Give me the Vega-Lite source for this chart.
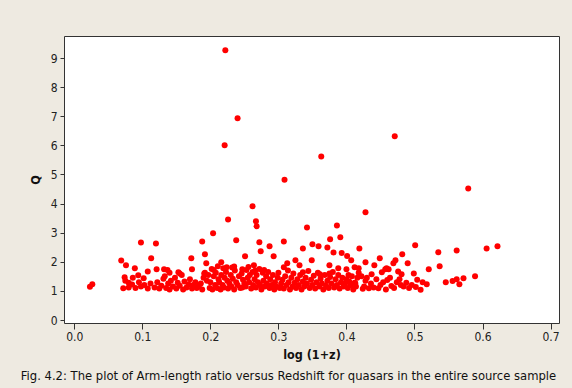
{
  "$schema": "https://vega.github.io/schema/vega-lite/v6.json",
  "autosize": "none",
  "width": 495,
  "height": 287,
  "padding": {"left": 64, "top": 36, "right": 13, "bottom": 65},
  "background": "#EEEAE1",
  "title": {
    "text": "Fig. 4.2: The plot of Arm-length ratio versus Redshift for quasars in the entire source sample",
    "orient": "bottom",
    "anchor": "middle",
    "font": "DejaVu Sans",
    "fontSize": 11.6,
    "fontWeight": "normal",
    "color": "#111",
    "offset": 10,
    "dx": -23
  },
  "config": {
    "view": {"fill": "white", "stroke": "#333", "strokeWidth": 1},
    "axis": {
      "grid": false,
      "domain": false,
      "tickColor": "#333",
      "labelFont": "DejaVu Sans Condensed",
      "labelFontSize": 12,
      "labelColor": "#222",
      "titleFont": "DejaVu Sans Condensed",
      "titleFontSize": 12.5,
      "titleFontWeight": "bold",
      "titleColor": "#111"
    }
  },
  "data": {
    "values": [
      {"x": 0.222, "q": 9.27}, {"x": 0.240, "q": 6.93}, {"x": 0.221, "q": 6.00}, {"x": 0.309, "q": 4.82},
      {"x": 0.471, "q": 6.31}, {"x": 0.363, "q": 5.62}, {"x": 0.579, "q": 4.52}, {"x": 0.428, "q": 3.70},
      {"x": 0.262, "q": 3.91}, {"x": 0.226, "q": 3.45}, {"x": 0.267, "q": 3.39}, {"x": 0.268, "q": 3.22},
      {"x": 0.342, "q": 3.18}, {"x": 0.386, "q": 3.25}, {"x": 0.204, "q": 2.98},
      {"x": 0.098, "q": 2.66}, {"x": 0.120, "q": 2.63}, {"x": 0.069, "q": 2.04}, {"x": 0.113, "q": 2.12},
      {"x": 0.188, "q": 2.70}, {"x": 0.238, "q": 2.74}, {"x": 0.272, "q": 2.67}, {"x": 0.308, "q": 2.70},
      {"x": 0.376, "q": 2.77}, {"x": 0.391, "q": 2.84}, {"x": 0.192, "q": 2.26}, {"x": 0.172, "q": 2.12},
      {"x": 0.251, "q": 2.19}, {"x": 0.274, "q": 2.36}, {"x": 0.287, "q": 2.53}, {"x": 0.293, "q": 2.19},
      {"x": 0.336, "q": 2.46}, {"x": 0.350, "q": 2.60}, {"x": 0.359, "q": 2.53}, {"x": 0.372, "q": 2.49},
      {"x": 0.381, "q": 2.32}, {"x": 0.393, "q": 2.30}, {"x": 0.401, "q": 2.20}, {"x": 0.407, "q": 2.05},
      {"x": 0.419, "q": 2.46}, {"x": 0.501, "q": 2.57}, {"x": 0.535, "q": 2.33}, {"x": 0.562, "q": 2.39},
      {"x": 0.606, "q": 2.46}, {"x": 0.622, "q": 2.53}, {"x": 0.482, "q": 2.26}, {"x": 0.472, "q": 2.05},
      {"x": 0.449, "q": 2.12}, {"x": 0.325, "q": 2.05}, {"x": 0.349, "q": 2.05},
      {"x": 0.076, "q": 1.88}, {"x": 0.089, "q": 1.78}, {"x": 0.108, "q": 1.67}, {"x": 0.121, "q": 1.74},
      {"x": 0.132, "q": 1.74}, {"x": 0.074, "q": 1.47}, {"x": 0.094, "q": 1.54}, {"x": 0.102, "q": 1.43},
      {"x": 0.153, "q": 1.64}, {"x": 0.173, "q": 1.74}, {"x": 0.194, "q": 1.95}, {"x": 0.216, "q": 1.98},
      {"x": 0.224, "q": 1.81}, {"x": 0.235, "q": 1.84}, {"x": 0.247, "q": 1.74}, {"x": 0.264, "q": 1.88},
      {"x": 0.191, "q": 1.60}, {"x": 0.205, "q": 1.72}, {"x": 0.313, "q": 1.95}, {"x": 0.331, "q": 1.88},
      {"x": 0.375, "q": 1.88}, {"x": 0.308, "q": 1.81}, {"x": 0.388, "q": 1.78}, {"x": 0.400, "q": 1.74},
      {"x": 0.412, "q": 1.81}, {"x": 0.336, "q": 1.64}, {"x": 0.361, "q": 1.57}, {"x": 0.375, "q": 1.60},
      {"x": 0.403, "q": 1.55}, {"x": 0.428, "q": 1.98}, {"x": 0.490, "q": 1.95}, {"x": 0.537, "q": 1.85},
      {"x": 0.441, "q": 1.88}, {"x": 0.521, "q": 1.74}, {"x": 0.462, "q": 1.74}, {"x": 0.476, "q": 1.67},
      {"x": 0.499, "q": 1.60}, {"x": 0.418, "q": 1.78}, {"x": 0.437, "q": 1.57}, {"x": 0.452, "q": 1.64},
      {"x": 0.481, "q": 1.57}, {"x": 0.457, "q": 1.74}, {"x": 0.469, "q": 1.95}, {"x": 0.459, "q": 1.78},
      {"x": 0.589, "q": 1.50}, {"x": 0.572, "q": 1.43}, {"x": 0.562, "q": 1.40}, {"x": 0.556, "q": 1.34},
      {"x": 0.546, "q": 1.30}, {"x": 0.566, "q": 1.23}, {"x": 0.518, "q": 1.23}, {"x": 0.504, "q": 1.38},
      {"x": 0.502, "q": 1.13}, {"x": 0.509, "q": 1.04}, {"x": 0.413, "q": 1.26}, {"x": 0.428, "q": 1.35},
      {"x": 0.433, "q": 1.09}, {"x": 0.447, "q": 1.09}, {"x": 0.460, "q": 1.37}, {"x": 0.466, "q": 1.17},
      {"x": 0.480, "q": 1.20}, {"x": 0.424, "q": 1.07}, {"x": 0.023, "q": 1.14}, {"x": 0.0265, "q": 1.23},
      {"x": 0.072, "q": 1.09}, {"x": 0.080, "q": 1.12}, {"x": 0.075, "q": 1.35}, {"x": 0.085, "q": 1.22},
      {"x": 0.090, "q": 1.10}, {"x": 0.095, "q": 1.30}, {"x": 0.098, "q": 1.15}, {"x": 0.103, "q": 1.20},
      {"x": 0.108, "q": 1.08}, {"x": 0.112, "q": 1.25}, {"x": 0.118, "q": 1.12}, {"x": 0.122, "q": 1.30},
      {"x": 0.125, "q": 1.08}, {"x": 0.128, "q": 1.18}, {"x": 0.131, "q": 1.42}, {"x": 0.080, "q": 1.28},
      {"x": 0.086, "q": 1.45},
      {"x": 0.133, "q": 1.50}, {"x": 0.135, "q": 1.10}, {"x": 0.138, "q": 1.25}, {"x": 0.140, "q": 1.05},
      {"x": 0.142, "q": 1.35}, {"x": 0.145, "q": 1.15}, {"x": 0.148, "q": 1.45}, {"x": 0.150, "q": 1.08},
      {"x": 0.152, "q": 1.28}, {"x": 0.155, "q": 1.18}, {"x": 0.158, "q": 1.55}, {"x": 0.160, "q": 1.05},
      {"x": 0.162, "q": 1.32}, {"x": 0.165, "q": 1.12}, {"x": 0.168, "q": 1.22}, {"x": 0.170, "q": 1.40},
      {"x": 0.173, "q": 1.08}, {"x": 0.175, "q": 1.20}, {"x": 0.178, "q": 1.30}, {"x": 0.180, "q": 1.10},
      {"x": 0.183, "q": 1.15}, {"x": 0.186, "q": 1.25}, {"x": 0.188, "q": 1.05}, {"x": 0.190, "q": 1.45},
      {"x": 0.192, "q": 1.62}, {"x": 0.195, "q": 1.35}, {"x": 0.197, "q": 1.55}, {"x": 0.199, "q": 1.10},
      {"x": 0.140, "q": 1.62}, {"x": 0.137, "q": 1.72}, {"x": 0.155, "q": 1.60},
      {"x": 0.200, "q": 1.30}, {"x": 0.202, "q": 1.75}, {"x": 0.203, "q": 1.05}, {"x": 0.205, "q": 1.50},
      {"x": 0.207, "q": 1.20}, {"x": 0.208, "q": 1.62}, {"x": 0.210, "q": 1.10}, {"x": 0.212, "q": 1.40},
      {"x": 0.213, "q": 1.30}, {"x": 0.215, "q": 1.05}, {"x": 0.216, "q": 1.55}, {"x": 0.218, "q": 1.20},
      {"x": 0.220, "q": 1.12}, {"x": 0.221, "q": 1.45}, {"x": 0.223, "q": 1.65}, {"x": 0.225, "q": 1.35},
      {"x": 0.226, "q": 1.08}, {"x": 0.228, "q": 1.25}, {"x": 0.230, "q": 1.55}, {"x": 0.231, "q": 1.15},
      {"x": 0.233, "q": 1.42}, {"x": 0.235, "q": 1.05}, {"x": 0.236, "q": 1.70}, {"x": 0.238, "q": 1.30},
      {"x": 0.240, "q": 1.20}, {"x": 0.242, "q": 1.50}, {"x": 0.244, "q": 1.10}, {"x": 0.246, "q": 1.60},
      {"x": 0.248, "q": 1.38}, {"x": 0.250, "q": 1.25}, {"x": 0.252, "q": 1.15}, {"x": 0.253, "q": 1.72},
      {"x": 0.255, "q": 1.45}, {"x": 0.257, "q": 1.30}, {"x": 0.258, "q": 1.55}, {"x": 0.260, "q": 1.08},
      {"x": 0.262, "q": 1.65}, {"x": 0.263, "q": 1.20}, {"x": 0.265, "q": 1.40}, {"x": 0.267, "q": 1.12},
      {"x": 0.268, "q": 1.55}, {"x": 0.270, "q": 1.30}, {"x": 0.272, "q": 1.75}, {"x": 0.273, "q": 1.20},
      {"x": 0.275, "q": 1.05}, {"x": 0.277, "q": 1.62}, {"x": 0.278, "q": 1.35}, {"x": 0.280, "q": 1.15},
      {"x": 0.282, "q": 1.50}, {"x": 0.283, "q": 1.25}, {"x": 0.285, "q": 1.65}, {"x": 0.287, "q": 1.10},
      {"x": 0.288, "q": 1.40}, {"x": 0.290, "q": 1.20}, {"x": 0.292, "q": 1.55}, {"x": 0.294, "q": 1.05},
      {"x": 0.295, "q": 1.30}, {"x": 0.297, "q": 1.15}, {"x": 0.299, "q": 1.45}, {"x": 0.211, "q": 1.85},
      {"x": 0.219, "q": 1.78}, {"x": 0.232, "q": 1.80}, {"x": 0.256, "q": 1.82}, {"x": 0.266, "q": 1.70},
      {"x": 0.279, "q": 1.72}, {"x": 0.247, "q": 1.12},
      {"x": 0.300, "q": 1.62}, {"x": 0.302, "q": 1.10}, {"x": 0.304, "q": 1.25}, {"x": 0.306, "q": 1.38},
      {"x": 0.308, "q": 1.08}, {"x": 0.310, "q": 1.50}, {"x": 0.312, "q": 1.20}, {"x": 0.314, "q": 1.70},
      {"x": 0.315, "q": 1.30}, {"x": 0.317, "q": 1.05}, {"x": 0.319, "q": 1.45}, {"x": 0.321, "q": 1.15},
      {"x": 0.322, "q": 1.60}, {"x": 0.324, "q": 1.28}, {"x": 0.326, "q": 1.10}, {"x": 0.328, "q": 1.40},
      {"x": 0.330, "q": 1.20}, {"x": 0.332, "q": 1.55}, {"x": 0.334, "q": 1.05}, {"x": 0.336, "q": 1.32},
      {"x": 0.338, "q": 1.15}, {"x": 0.340, "q": 1.45}, {"x": 0.342, "q": 1.25}, {"x": 0.344, "q": 1.68},
      {"x": 0.346, "q": 1.10}, {"x": 0.348, "q": 1.38}, {"x": 0.350, "q": 1.20}, {"x": 0.352, "q": 1.52},
      {"x": 0.354, "q": 1.08}, {"x": 0.356, "q": 1.30}, {"x": 0.358, "q": 1.62}, {"x": 0.360, "q": 1.15},
      {"x": 0.362, "q": 1.42}, {"x": 0.364, "q": 1.25}, {"x": 0.366, "q": 1.05}, {"x": 0.368, "q": 1.55},
      {"x": 0.370, "q": 1.18}, {"x": 0.372, "q": 1.35}, {"x": 0.374, "q": 1.10}, {"x": 0.376, "q": 1.48},
      {"x": 0.378, "q": 1.25}, {"x": 0.380, "q": 1.65}, {"x": 0.382, "q": 1.12}, {"x": 0.384, "q": 1.40},
      {"x": 0.386, "q": 1.20}, {"x": 0.388, "q": 1.55}, {"x": 0.390, "q": 1.08}, {"x": 0.392, "q": 1.30},
      {"x": 0.394, "q": 1.45}, {"x": 0.396, "q": 1.15}, {"x": 0.398, "q": 1.25}, {"x": 0.400, "q": 1.40},
      {"x": 0.402, "q": 1.10}, {"x": 0.404, "q": 1.32}, {"x": 0.406, "q": 1.20}, {"x": 0.408, "q": 1.50},
      {"x": 0.410, "q": 1.05}, {"x": 0.412, "q": 1.28}, {"x": 0.414, "q": 1.15}, {"x": 0.416, "q": 1.45},
      {"x": 0.418, "q": 1.62},
      {"x": 0.422, "q": 1.50}, {"x": 0.426, "q": 1.15}, {"x": 0.430, "q": 1.45}, {"x": 0.436, "q": 1.25},
      {"x": 0.440, "q": 1.12}, {"x": 0.444, "q": 1.40}, {"x": 0.450, "q": 1.20}, {"x": 0.454, "q": 1.30},
      {"x": 0.458, "q": 1.05}, {"x": 0.464, "q": 1.45}, {"x": 0.470, "q": 1.10}, {"x": 0.474, "q": 1.30},
      {"x": 0.478, "q": 1.40}, {"x": 0.484, "q": 1.15}, {"x": 0.488, "q": 1.28}, {"x": 0.492, "q": 1.10},
      {"x": 0.496, "q": 1.20}, {"x": 0.512, "q": 1.30}
    ]
  },
  "mark": {"type": "circle", "color": "#FF0000", "size": 36, "opacity": 1},
  "encoding": {
    "x": {
      "field": "x",
      "type": "quantitative",
      "title": "log (1+z)",
      "scale": {"domain": [-0.0151, 0.7124], "nice": false, "zero": false},
      "axis": {"values": [0, 0.1, 0.2, 0.3, 0.4, 0.5, 0.6, 0.7], "format": ".1f", "tickSize": 6, "labelPadding": 2, "titlePadding": 6}
    },
    "y": {
      "field": "q",
      "type": "quantitative",
      "title": "Q",
      "scale": {"domain": [-0.103, 9.756], "nice": false, "zero": false},
      "axis": {"values": [0, 1, 2, 3, 4, 5, 6, 7, 8, 9], "tickSize": 4, "labelPadding": 3, "titlePadding": 8}
    }
  }
}
